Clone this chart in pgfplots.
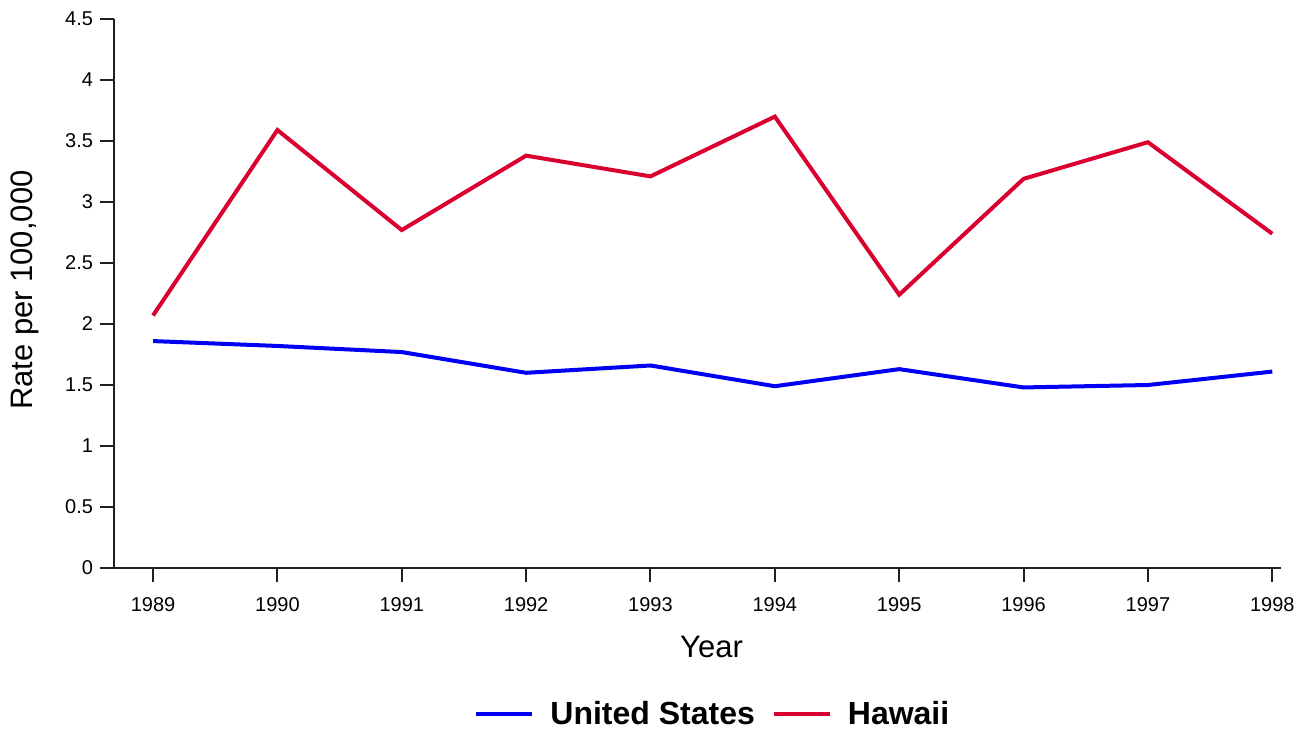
\documentclass[border=0pt]{standalone}
\usepackage{fontspec}
\setmainfont{Liberation Sans}
\usepackage{pgfplots}
\pgfplotsset{compat=1.18}
\definecolor{usblue}{RGB}{0,0,245}
\definecolor{hired}{RGB}{218,0,48}
\definecolor{axgray}{RGB}{35,31,32}
\begin{document}
\begin{tikzpicture}
\begin{axis}[
  at={(0,0)}, anchor=south west,
  scale only axis,
  width=583.5pt, height=274.5pt,
  xmin=1988.686, xmax=1998.07,
  ymin=0, ymax=4.5,
  axis x line=bottom, axis y line=left,
  axis line style={-, draw=axgray, line width=1pt},
  tick style={draw=axgray, line width=1pt},
  tick align=outside,
  major tick length=7pt,
  xtick={1989,1990,1991,1992,1993,1994,1995,1996,1997,1998},
  xticklabels={1989,1990,1991,1992,1993,1994,1995,1996,1997,1998},
  ytick={0,0.5,1,1.5,2,2.5,3,3.5,4,4.5},
  yticklabels={0,0.5,1,1.5,2,2.5,3,3.5,4,4.5},
  ticklabel style={font=\fontsize{10}{12}\selectfont},
  xticklabel style={yshift=-4pt},
  /pgf/number format/assume math mode=true,
  xlabel={Year},
  ylabel={Rate per 100,000},
  label style={font=\fontsize{15.5}{18}\selectfont},
  xlabel style={at={(axis description cs:0.512,-0.1439)}, anchor=center},
  ylabel style={at={(axis description cs:-0.0763,0.506)}, anchor=center},
  legend columns=2,
  legend style={at={(axis description cs:0.514,-0.2660)}, anchor=center,
    draw=none, fill=none, font=\fontsize{16}{19}\selectfont\bfseries,
    /tikz/every even column/.append style={column sep=6.5pt}},
  legend image code/.code={\draw[#1] (0pt,0pt) -- (28pt,0pt); \path (34pt,0pt);},
  clip=false,
]
\addplot[usblue, line width=2pt] coordinates {
(1989,1.86) (1990,1.82) (1991,1.77) (1992,1.60) (1993,1.66)
(1994,1.49) (1995,1.63) (1996,1.48) (1997,1.50) (1998,1.61)};
\addlegendentry{United States}
\addplot[hired, line width=2pt] coordinates {
(1989,2.07) (1990,3.59) (1991,2.77) (1992,3.38) (1993,3.21)
(1994,3.70) (1995,2.24) (1996,3.19) (1997,3.49) (1998,2.74)};
\addlegendentry{Hawaii}
\end{axis}
\path[use as bounding box] (-57pt,-79.5pt) rectangle (598.5pt,284pt);
\end{tikzpicture}
\end{document}
